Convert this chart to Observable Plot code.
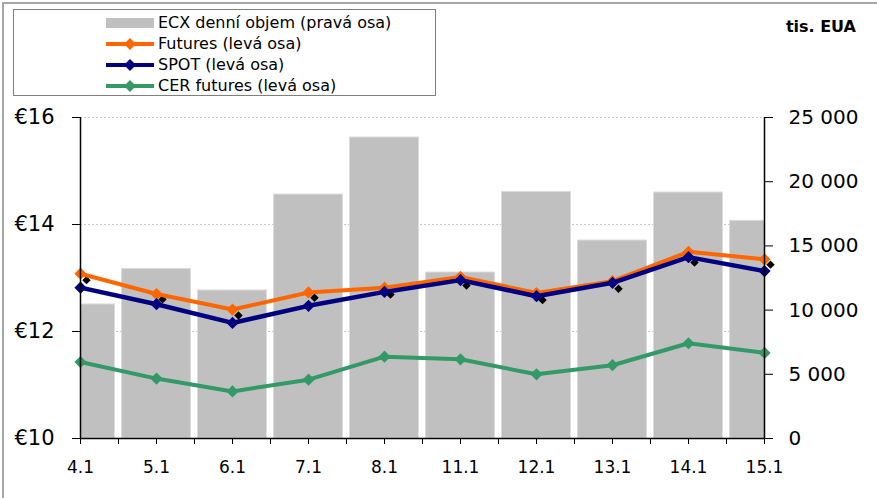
<!DOCTYPE html>
<html>
<head>
<meta charset="utf-8">
<script src="https://cdn.jsdelivr.net/npm/d3@7"></script>
<script src="https://cdn.jsdelivr.net/npm/@observablehq/plot@0.6"></script>
<style>
  html, body { margin: 0; padding: 0; background: #fff; }
  #wrap { position: relative; width: 877px; height: 498px; overflow: hidden; font-family: "DejaVu Sans", Verdana, sans-serif; }
  #frame { position: absolute; left: 2px; top: 2px; width: 900px; height: 520px; border-left: 2px solid #a6a6a6; border-top: 2px solid #a6a6a6; pointer-events: none; }
  #legend { position: absolute; left: 13px; top: 9px; width: 423px; height: 87px; border: 1px solid #7f7f7f; background: #fff; box-sizing: border-box; }
  .row { position: absolute; left: 92px; height: 21px; display: flex; align-items: center; font-size: 16px; color: #000; white-space: nowrap; }
  .row svg { margin-right: 4px; }
  #unit { position: absolute; right: 21px; top: 17px; font-weight: bold; font-size: 16px; color: #000; }
  #chart { position: absolute; left: 0; top: 0; }
</style>
</head>
<body>
<div id="wrap">
  <div id="chart"></div>
  <div id="legend"></div>
  <div id="unit">tis. EUA</div>
  <div id="frame"></div>
</div>
<script>
// ---- data ----
const categories = ["4.1", "5.1", "6.1", "7.1", "8.1", "11.1", "12.1", "13.1", "14.1", "15.1"];
const volume = [10440, 13210, 11530, 19000, 23440, 12930, 19210, 15420, 19160, 16950]; // ECX denní objem (pravá osa)
const futures = [13.08, 12.70, 12.41, 12.73, 12.82, 13.02, 12.72, 12.94, 13.49, 13.35];
const spot = [12.82, 12.51, 12.16, 12.48, 12.74, 12.96, 12.66, 12.91, 13.39, 13.13];
const cer = [11.43, 11.12, 10.88, 11.10, 11.53, 11.48, 11.20, 11.37, 11.78, 11.60];
const blackMarkers = [12.96, 12.60, 12.30, 12.63, 12.69, 12.86, 12.59, 12.80, 13.29, 13.25];
const leftTicks = [10, 12, 14, 16];
const rightTicks = [0, 5000, 10000, 15000, 20000, 25000];

const series = [
  {name: "ECX denní objem (pravá osa)", type: "bar", color: "#c0c0c0"},
  {name: "Futures (levá osa)", type: "line", color: "#ff6600"},
  {name: "SPOT (levá osa)", type: "line", color: "#000080"},
  {name: "CER futures (levá osa)", type: "line", color: "#339966"}
];

// map right axis (0..25000) onto left axis (10..16)
const leftMin = 10, leftMax = 16, rightMax = 25000;
const toLeft = v => leftMin + v / rightMax * (leftMax - leftMin);

const idx = categories.map((c, i) => i);
const mids = idx.slice(0, -1).map(i => i + 0.5);
const bars = categories.map((c, i) => ({i, v: volume[i]}));
const mk = arr => arr.map((v, i) => ({i, v}));

const halfBar = 0.454;

const plot = Plot.plot({
  width: 877,
  height: 498,
  marginLeft: 80,
  marginRight: 113,
  marginTop: 117,
  marginBottom: 60,
  style: {fontFamily: "DejaVu Sans, Verdana, sans-serif", background: "transparent", color: "#000"},
  x: {type: "linear", domain: [0, categories.length - 1], label: null},
  y: {type: "linear", domain: [leftMin, leftMax], label: null},
  marks: [
    Plot.ruleY(leftTicks.filter(t => t > leftMin), {stroke: "#c8c8c8", strokeWidth: 1, strokeDasharray: "2,2"}),
    Plot.rectY(bars, {x1: d => d.i - halfBar, x2: d => d.i + halfBar, y1: leftMin, y2: d => toLeft(d.v), fill: "#c0c0c0", stroke: "#dcdcdc", strokeWidth: 1, clip: "frame"}),
    Plot.dot(mk(blackMarkers), {x: "i", y: "v", symbol: "diamond2", r: 3.8, fill: "#000", stroke: "none", dx: 6}),
    Plot.line(mk(cer), {x: "i", y: "v", stroke: series[3].color, strokeWidth: 4}),
    Plot.dot(mk(cer), {x: "i", y: "v", symbol: "diamond2", r: 5.5, fill: series[3].color, stroke: "none"}),
    Plot.line(mk(futures), {x: "i", y: "v", stroke: series[1].color, strokeWidth: 4}),
    Plot.dot(mk(futures), {x: "i", y: "v", symbol: "diamond2", r: 5.5, fill: series[1].color, stroke: "none"}),
    Plot.line(mk(spot), {x: "i", y: "v", stroke: series[2].color, strokeWidth: 4.5}),
    Plot.dot(mk(spot), {x: "i", y: "v", symbol: "diamond2", r: 5.5, fill: series[2].color, stroke: "none"}),
    // axis lines
    Plot.ruleX([0], {stroke: "#000", strokeWidth: 1.5}),
    Plot.ruleX([categories.length - 1], {stroke: "#000", strokeWidth: 1.5}),
    Plot.ruleY([leftMin], {stroke: "#000", strokeWidth: 1.5}),
    // left axis
    Plot.axisY({anchor: "left", label: null, ticks: leftTicks, tickFormat: d => "€" + d, tickSize: 8, tickPadding: 18, fontSize: 21, stroke: "#000"}),
    // right axis
    Plot.axisY({anchor: "right", label: null, ticks: rightTicks.map(toLeft), tickFormat: d => d3.format(",")(Math.round((d - leftMin) / (leftMax - leftMin) * rightMax)).replace(/,/g, " "), tickSize: 8, tickPadding: 16, fontSize: 20, stroke: "#000"}),
    // bottom axis
    Plot.axisX({label: null, ticks: idx, tickFormat: i => categories[i], tickSize: 6, tickPadding: 16, fontSize: 17, stroke: "#000"}),
    Plot.axisX({label: null, ticks: mids, tickFormat: () => "", tickSize: 6, stroke: "#000"})
  ]
});
document.getElementById("chart").appendChild(plot);

// legend
const legend = document.getElementById("legend");
const rowTops = [2, 23, 44, 65];
series.forEach((s, k) => {
  const row = document.createElement("div");
  row.className = "row";
  row.style.top = rowTops[k] + "px";
  let sw;
  if (s.type === "bar") {
    sw = `<svg width="48" height="12"><rect x="0" y="1" width="48" height="10" fill="${s.color}"/></svg>`;
  } else {
    sw = `<svg width="48" height="12"><line x1="0" y1="6" x2="48" y2="6" stroke="${s.color}" stroke-width="4" stroke-linecap="round"/><path d="M24,0 L30,6 L24,12 L18,6 Z" fill="${s.color}"/></svg>`;
  }
  row.innerHTML = sw + `<span>${s.name}</span>`;
  legend.appendChild(row);
});
</script>
</body>
</html>
